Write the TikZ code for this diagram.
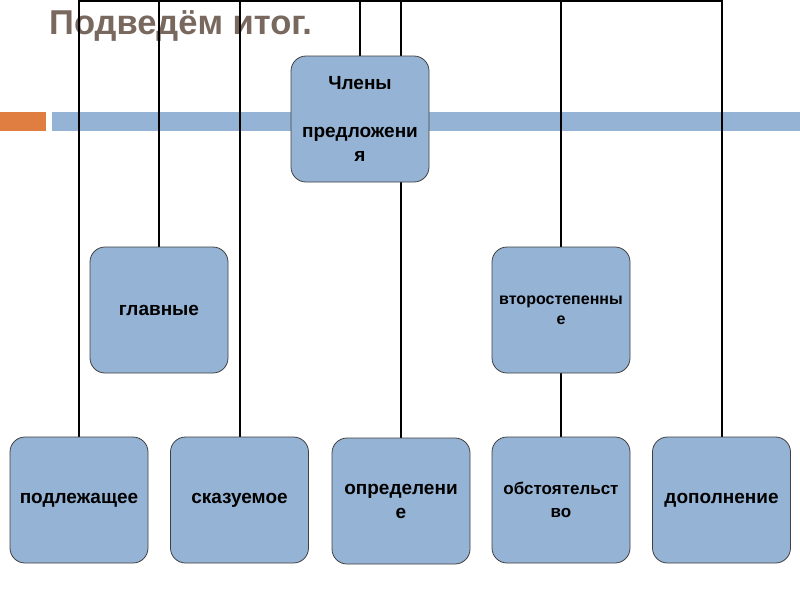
\documentclass[tikz,border=0pt]{standalone}
\usepackage{fontspec}
\setmainfont{Liberation Sans}
\definecolor{boxfill}{RGB}{149,179,212}
\definecolor{boxline}{RGB}{64,64,64}
\definecolor{titlecol}{RGB}{120,104,94}
\definecolor{accent}{RGB}{224,126,66}
\definecolor{barblue}{RGB}{149,179,212}
\pgfdeclarelayer{bg}
\pgfdeclarelayer{lines}
\pgfsetlayers{bg,lines,main}
\begin{document}
\begin{tikzpicture}[x=1pt,y=-1pt,
  box/.style={draw=boxline, line width=0.8pt, fill=boxfill, rounded corners=15pt,
    minimum width=138pt, minimum height=126pt, inner sep=2pt, align=center,
    font=\bfseries\fontsize{19}{24}\selectfont},
  smallbox/.style={box, font=\bfseries\fontsize{16}{20}\selectfont},
  midbox/.style={box, font=\bfseries\fontsize{17}{23}\selectfont},
  link/.style={draw=black, line width=2pt}]
\useasboundingbox (0,0) rectangle (800,600);

% boxes
\node[box] (chl) at (360,119) {Члены\\[24pt]предложени\\я};
\node[box] (glav) at (159,310) {главные};
\node[smallbox] (vtor) at (561,310) {второстепенны\\е};
\node[box] (pod) at (79,500) {подлежащее};
\node[box] (skaz) at (239.5,500) {сказуемое};
\node[box] (opr) at (401,501) {определени\\е};
\node[midbox] (obst) at (561,500) {обстоятельст\\во};
\node[box] (dop) at (721.5,500) {дополнение};

\begin{pgfonlayer}{bg}
  \fill[white] (0,0) rectangle (800,600);
  \fill[accent] (0,112) rectangle (46,131);
  \fill[barblue] (52,112) rectangle (800,131);
  \node[anchor=base west, inner sep=0pt, text=titlecol,
        font=\bfseries\fontsize{34.5}{40}\selectfont] (title) at (49,34) {Подведём итог.};
\end{pgfonlayer}

\begin{pgfonlayer}{lines}
  \coordinate (top) at (0,1);
  \draw[link] (pod.north) -- (pod.north |- top) -- (dop.north |- top) -- (dop.north);
  \draw[link] (glav.north) -- (glav.north |- top);
  \draw[link] (skaz.north) -- (skaz.north |- top);
  \draw[link] (chl.north) -- (chl.north |- top);
  \draw[link] (opr.north |- chl.north) -- (opr.north |- top);
  \draw[link] (opr.north) -- (opr.north |- chl.south);
  \draw[link] (vtor.north) -- (vtor.north |- top);
  \draw[link] (obst.north) -- (vtor.south);
\end{pgfonlayer}
\end{tikzpicture}
\end{document}
